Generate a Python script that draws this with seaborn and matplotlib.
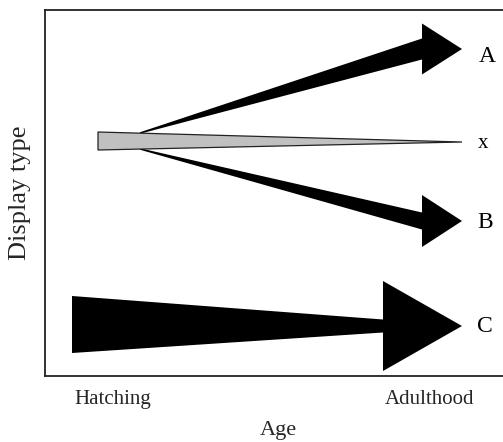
import matplotlib
matplotlib.use("Agg")
import matplotlib.pyplot as plt
import seaborn as sns
import numpy as np

# ---- data (x = age units, y = display-type units) ----
labels        = ["A", "x", "B", "C"]
fill_colors   = ["black", "#c0c0c0", "black", "black"]
start_x       = [95, 53, 95, 27]
start_y       = [243, 235, 227, 51.5]
start_width   = [1.5, 18, 1.5, 57]
shaft_end_x   = [377, 417, 377, 338]
shaft_end_y   = [327, 234, 155, 50]
shaft_end_w   = [21, 0, 17, 13]
head_width    = [51, 0, 52, 90]
tip_x         = [417, 417, 417, 417]
label_x       = [442, 438, 440, 440]
label_y       = [319, 233, 154, 50]

tick_positions = [68, 385]
tick_labels    = ["Hatching", "Adulthood"]
x_limits = (0, 467)
y_limits = (0, 366)

sns.set_style("white")
plt.rcParams["font.family"] = ["Liberation Serif", "DejaVu Serif"]

fig = plt.figure(figsize=(5.03, 4.42), dpi=100)
ax = fig.add_axes([45 / 503, 66 / 442, 467 / 503, 366 / 442])
ax.set_xlim(*x_limits)
ax.set_ylim(*y_limits)

order = [0, 2, 3, 1]  # grey bar on top
for i in order:
    x0, y0, w0 = start_x[i], start_y[i], start_width[i]
    x1, y1, w1 = shaft_end_x[i], shaft_end_y[i], shaft_end_w[i]
    if head_width[i] > 0:
        hw = head_width[i]
        xs = [x0, x1, x1, tip_x[i], x1, x1, x0]
        ys = [y0 + w0 / 2, y1 + w1 / 2, y1 + hw / 2, y1,
              y1 - hw / 2, y1 - w1 / 2, y0 - w0 / 2]
        ax.fill(xs, ys, color=fill_colors[i], lw=0)
    else:
        xs = [x0, x1, x0]
        ys = [y0 + w0 / 2, y1, y0 - w0 / 2]
        ax.fill(xs, ys, facecolor=fill_colors[i], edgecolor="#222222", lw=0.9)
    ax.text(label_x[i], label_y[i], labels[i], ha="center", va="center",
            fontsize=17 if labels[i] != "x" else 15, color="black")

ax.set_yticks([])
ax.set_xticks(tick_positions)
ax.set_xticklabels(tick_labels, fontsize=15)
ax.tick_params(axis="x", length=0, pad=10)
ax.set_xlabel("Age", fontsize=16, labelpad=9)
ax.set_ylabel("Display type", fontsize=19, labelpad=10)

for s in ax.spines.values():
    s.set_color("#222222")
    s.set_linewidth(1.3)

fig.savefig("out.png", dpi=100)
